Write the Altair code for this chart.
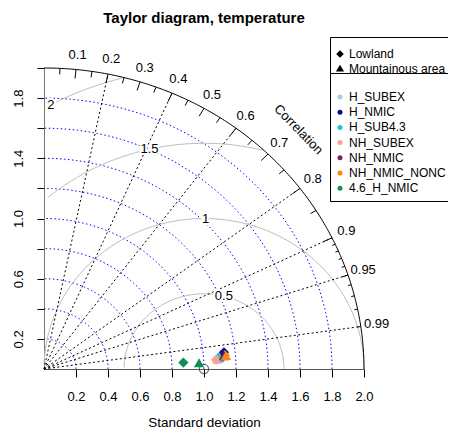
import numpy as np
import pandas as pd
import altair as alt

# ---------------- data ----------------
models = ["H_SUBEX", "H_NMIC", "H_SUB4.3", "NH_SUBEX", "NH_NMIC", "NH_NMIC_NONC", "4.6_H_NMIC"]
model_colors = ["#a6cee3", "#0a0a8c", "#1fc3c9", "#f7a19a", "#7b2158", "#ff8412", "#0f8f55"]
areas = ["Lowland", "Mountainous area"]
area_shapes = ["diamond", "triangle-up"]

lowland_sd = [1.092, 1.130, 1.093, 1.077, 1.124, 1.134, 0.872]
lowland_cor = [0.9980, 0.9952, 0.9976, 0.9984, 0.9968, 0.9968, 0.9988]
mount_sd = [1.092, 1.124, 1.100, 1.083, 1.128, 1.141, 0.970]
mount_cor = [0.9981, 0.9964, 0.9976, 0.9981, 0.9970, 0.9969, 0.9991]

ref_sd = 1.0
max_sd = 2.0
sd_axis_ticks = [0.2, 0.4, 0.6, 0.8, 1.0, 1.2, 1.4, 1.6, 1.8, 2.0]
y_axis_labels = ["0.2", "0.6", "1.0", "1.4", "1.8"]
sd_arcs = [0.2, 0.4, 0.6, 0.8, 1.0, 1.2, 1.4, 1.6, 1.8]
cor_labels = [0.1, 0.2, 0.3, 0.4, 0.5, 0.6, 0.7, 0.8, 0.9, 0.95, 0.99]
cor_rays = [0.2, 0.4, 0.6, 0.8, 0.9, 0.95, 0.99]
rms_levels = [0.5, 1.0, 1.5, 2.0]
rms_label_text = ["0.5", "1", "1.5", "2"]
rms_label_pos = [44, 52, 60, 69]
big_ticks = [0.1, 0.2, 0.3, 0.4, 0.5, 0.6, 0.7, 0.8, 0.9]
med_ticks = [0.05, 0.15, 0.25, 0.35, 0.45, 0.55, 0.65, 0.75, 0.85, 0.95]
small_ticks = [0.91, 0.92, 0.93, 0.94, 0.95, 0.96, 0.97, 0.98, 0.99]

FONT = "Liberation Sans"

# ---------------- geometry tables ----------------
rows = []
th = np.linspace(0, np.pi / 2, 120)
for k, r in enumerate(sd_arcs):
    for i, t in enumerate(th):
        rows.append({"id": k, "i": i, "x": r * np.cos(t), "y": r * np.sin(t)})
sd_arc_df = pd.DataFrame(rows)

outer_df = pd.DataFrame({"i": np.arange(200),
                         "x": max_sd * np.cos(np.linspace(0, np.pi / 2, 200)),
                         "y": max_sd * np.sin(np.linspace(0, np.pi / 2, 200))})

rows = []
lab_rows = []
tt = np.arange(0, np.pi, 0.03)
for k, g in enumerate(rms_levels):
    xc = np.cos(tt) * g + ref_sd
    yc = np.sin(tt) * g
    neg = np.where(xc < 0)[0]
    end = neg.min() - 1 if len(neg) else len(tt) - 1
    outside = np.where(xc * xc + yc * yc > max_sd * max_sd + 1e-9)[0]
    start = outside.max() + 1 if len(outside) else 0
    for i in range(start, end + 1):
        rows.append({"id": k, "i": i, "x": xc[i], "y": yc[i]})
    p = rms_label_pos[k]
    lab_rows.append({"x": xc[p], "y": yc[p], "t": rms_label_text[k]})
rms_df = pd.DataFrame(rows)
rms_lab_df = pd.DataFrame(lab_rows)

ray_df = pd.DataFrame({"x": [0.0] * len(cor_rays), "y": [0.0] * len(cor_rays),
                       "x2": [max_sd * c for c in cor_rays],
                       "y2": [max_sd * np.sqrt(1 - c * c) for c in cor_rays]})

rows = []
for lst, f in [(big_ticks, 0.97), (med_ticks, 0.98), (small_ticks, 0.99)]:
    for c in lst:
        s = np.sqrt(1 - c * c)
        rows.append({"x": max_sd * c, "y": max_sd * s, "x2": f * max_sd * c, "y2": f * max_sd * s})
tick_df = pd.DataFrame(rows)

cor_lab_df = pd.DataFrame({"x": [1.05 * max_sd * c for c in cor_labels],
                           "y": [1.05 * max_sd * np.sqrt(1 - c * c) for c in cor_labels],
                           "t": [("%g" % c) for c in cor_labels]})
corr_title_df = pd.DataFrame({"x": [1.125 * max_sd * np.cos(np.pi / 4)],
                              "y": [1.125 * max_sd * np.sin(np.pi / 4)],
                              "t": ["Correlation"]})

ref_df = pd.DataFrame({"x": [ref_sd], "y": [0.0]})

rows = []
for area, sds, cors in [(areas[0], lowland_sd, lowland_cor), (areas[1], mount_sd, mount_cor)]:
    for m, s, c in zip(models, sds, cors):
        rows.append({"model": m, "area": area, "x": s * c, "y": s * np.sqrt(1 - c * c)})
pts_df = pd.DataFrame(rows)

# ---------------- scales / axes ----------------
xs = alt.Scale(domain=[0, max_sd], nice=False, zero=False)
ys = alt.Scale(domain=[0, max_sd], nice=False, zero=False)

x_axis = alt.Axis(values=sd_axis_ticks, format=".1f", title="Standard deviation", grid=False,
                  tickSize=8, tickColor="black", domainColor="#555555", labelFont=FONT,
                  labelFontSize=13, labelColor="black", labelPadding=13, titleFont=FONT,
                  titleFontSize=13.5, titleFontWeight="normal", titleColor="black",
                  titlePadding=12, labelFlush=False)
y_axis = alt.Axis(values=sd_axis_ticks, format=".1f", title=None, grid=False,
                  tickSize=7, tickColor="black", domainColor="#777777", labelFont=FONT,
                  labelFontSize=13, labelColor="black", labelPadding=12, labelAngle=270,
                  labelExpr="indexof(%s, datum.label) >= 0 ? datum.label : ''" % str(y_axis_labels),
                  labelFlush=False, labelOverlap=False)

X = alt.X("x:Q", scale=xs, axis=x_axis)
Y = alt.Y("y:Q", scale=ys, axis=y_axis)

sd_arc_layer = alt.Chart(sd_arc_df).mark_line(color="blue", strokeWidth=1, strokeDash=[1.5, 2.5]).encode(
    x=X, y=Y, detail="id:N", order="i:Q")
rms_layer = alt.Chart(rms_df).mark_line(color="#bebebe", strokeWidth=1).encode(
    x=X, y=Y, detail="id:N", order="i:Q")
ray_layer = alt.Chart(ray_df).mark_rule(color="black", strokeWidth=1, strokeDash=[2, 2.5]).encode(
    x=X, y=Y, x2="x2:Q", y2="y2:Q")
outer_layer = alt.Chart(outer_df).mark_line(color="black", strokeWidth=1).encode(x=X, y=Y, order="i:Q")
tick_layer = alt.Chart(tick_df).mark_rule(color="black", strokeWidth=1).encode(
    x=X, y=Y, x2="x2:Q", y2="y2:Q")
cor_lab_layer = alt.Chart(cor_lab_df).mark_text(font=FONT, fontSize=13, color="black").encode(
    x=X, y=Y, text="t:N")
corr_title_layer = alt.Chart(corr_title_df).mark_text(font=FONT, fontSize=13, color="black", angle=46).encode(
    x=X, y=Y, text="t:N")
rms_halo_layer = alt.Chart(rms_lab_df).mark_text(font=FONT, fontSize=13, color="white", stroke="white",
                                                 strokeWidth=4).encode(x=X, y=Y, text="t:N")
rms_lab_layer = alt.Chart(rms_lab_df).mark_text(font=FONT, fontSize=13, color="black").encode(
    x=X, y=Y, text="t:N")
ref_layer = alt.Chart(ref_df).mark_point(shape="circle", size=85, filled=False, color="#333333",
                                         strokeWidth=1.2).encode(x=X, y=Y)

pts_layer = alt.Chart(pts_df).mark_point(filled=True, opacity=1, size=105).encode(
    x=X, y=Y,
    color=alt.Color("model:N", scale=alt.Scale(domain=models, range=model_colors),
                    legend=alt.Legend(orient="none", legendX=286, legendY=5, title=" ",
                                      titleFontSize=8, titlePadding=4, strokeColor="black",
                                      fillColor="white", padding=6, labelFont=FONT,
                                      labelFontSize=12, labelColor="black", symbolType="circle",
                                      symbolSize=25, symbolStrokeWidth=0, rowPadding=3.2,
                                      symbolOffset=-2, labelOffset=3, zindex=3)),
    shape=alt.Shape("area:N", scale=alt.Scale(domain=areas, range=area_shapes),
                    legend=alt.Legend(orient="none", legendX=286, legendY=-31, title=" ",
                                      titleFontSize=5, titlePadding=2, strokeColor="black",
                                      fillColor="white", padding=4, labelFont=FONT,
                                      labelFontSize=12, labelColor="black", symbolSize=30,
                                      symbolFillColor="black", symbolStrokeColor="black",
                                      rowPadding=2.5, symbolOffset=0, labelOffset=3, zindex=1)),
    order=alt.Order("ord:Q"),
).transform_calculate(ord="datum.area == 'Lowland' ? 0 : 1")

chart = alt.layer(
    sd_arc_layer, rms_layer, ray_layer, outer_layer, tick_layer, cor_lab_layer, corr_title_layer,
    rms_halo_layer, rms_lab_layer, ref_layer, pts_layer
).properties(
    width=320, height=301,
    background="white",
    title=alt.TitleParams("Taylor diagram, temperature", font=FONT, fontSize=15, fontWeight="bold",
                          anchor="middle", frame="group", offset=-1, baseline="alphabetic",
                          color="black"),
    autosize=alt.AutoSizeParams(type="none"),
    padding={"left": 36, "top": 60, "right": 84, "bottom": 60},
).configure_view(stroke=None)

chart.save("out.html", embed_options={"renderer": "svg", "actions": False})
